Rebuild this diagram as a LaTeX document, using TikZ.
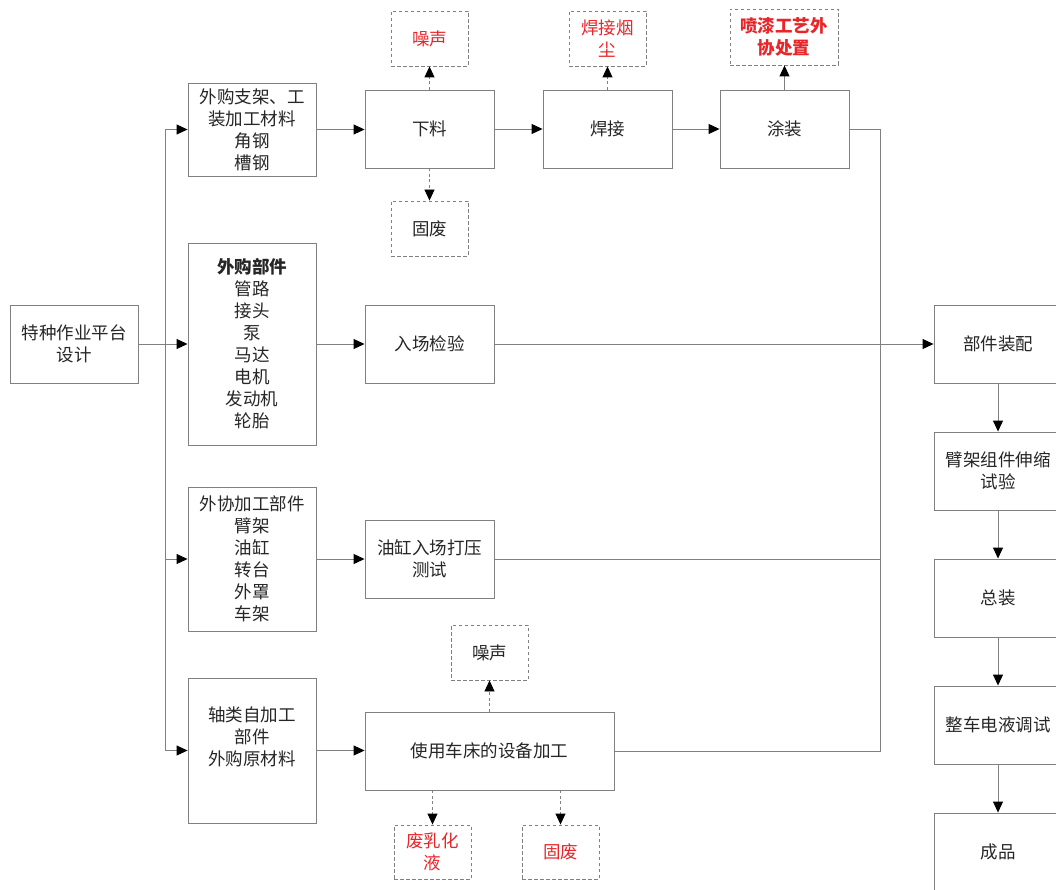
\documentclass[tikz,border=0pt]{standalone}
\usepackage{fontspec}
\setmainfont{Noto Sans CJK SC}
\usetikzlibrary{arrows.meta}
\definecolor{ln}{HTML}{808080}
\definecolor{tx}{HTML}{262626}
\definecolor{rd}{HTML}{E8262A}
\tikzset{
  box/.style={draw=ln, line width=0.9pt, minimum width=128pt, minimum height=78pt, align=center, inner sep=0pt, text=tx, font=\fontsize{17.5pt}{22pt}\selectfont},
  dbox/.style={box, dash pattern=on 3.5pt off 2.5pt, minimum width=77pt, minimum height=55pt},
  con/.style={draw=ln, line width=0.9pt},
  arr/.style={con, -{Triangle[black, length=11pt, width=10pt]}},
  darr/.style={arr, dash pattern=on 3pt off 2.5pt},
}
\begin{document}
\begin{tikzpicture}[x=1pt, y=-1pt]
\useasboundingbox (0,0) rectangle (1056,890);
\clip (0,0) rectangle (1056,890);
\fill[white] (0,0) rectangle (1056,890);
% left
\node[box] (design) at (74,344) {特种作业平台\\设计};
\node[box, minimum height=93pt] (a1) at (252,129.5) {外购支架、工\\装加工材料\\角钢\\槽钢};
\node[box, minimum height=202pt] (a2) at (252,344) {\textbf{外购部件}\\管路\\接头\\泵\\马达\\电机\\发动机\\轮胎};
\node[box, minimum height=144pt] (a3) at (252,559) {外协加工部件\\臂架\\油缸\\转台\\外罩\\车架};
\node[box, minimum height=145pt] (a4) at (252,750.5) {轴类自加工\\部件\\外购原材料\\\strut};
% process row 1
\node[box, minimum width=129pt] (xl) at (429.5,129) {下料};
\node[box, minimum width=129pt] (hj) at (607.5,129) {焊接};
\node[box, minimum width=129pt] (tz) at (784.5,129) {涂装};
\node[dbox, text=rd] (n1) at (429.5,38.5) {噪声};
\node[dbox, text=rd] (yc) at (607.5,38.5) {焊接烟\\尘};
\node[dbox, text=rd, minimum width=108pt, minimum height=56pt, font=\fontsize{17.5pt}{22pt}\selectfont\bfseries] (pq) at (784,37) {喷漆工艺外\\协处置};
\node[dbox] (gf1) at (429.5,228.5) {固废};
% other processes
\node[box, minimum width=129pt] (rc) at (429.5,344) {入场检验};
\node[box, minimum width=129pt] (yg) at (429.5,559) {油缸入场打压\\测试};
\node[box, minimum width=249pt] (cc) at (489.5,751) {使用车床的设备加工};
\node[dbox] (n2) at (489.5,652.5) {噪声};
\node[dbox, text=rd, minimum height=54pt] (fr) at (432.5,852) {废乳化\\液};
\node[dbox, text=rd, minimum height=54pt] (gf2) at (560.5,852) {固废};
% right column
\node[box] (bj) at (998,344) {部件装配};
\node[box] (sy) at (998,471) {臂架组件伸缩\\试验};
\node[box] (zz) at (998,598) {总装};
\node[box] (tc) at (998,725) {整车电液调试};
\node[box] (cp) at (998,852) {成品};
% bus
\coordinate (bt) at (165,129.5);
\coordinate (bm) at (165,344);
\coordinate (b3) at (165,559);
\coordinate (bb) at (165,750.5);
\draw[con] (design.east) -- (bm);
\draw[con] (bt) -- (bb);
\draw[arr] (bt) -- (a1.west);
\draw[arr] (bm) -- (a2.west);
\draw[arr] (b3) -- (a3.west);
\draw[arr] (bb) -- (a4.west);
% flows
\draw[arr] (a1.east) -- (a1.east -| xl.west);
\draw[arr] (xl) -- (hj);
\draw[arr] (hj) -- (tz);
\draw[arr] (a2.east) -- (rc.west);
\draw[arr] (a3.east) -- (yg.west);
\draw[arr] (a4.east) -- (a4.east -| cc.west);
\draw[darr] (xl.north) -- (n1.south);
\draw[darr] (xl.south) -- (gf1.north);
\draw[darr] (hj.north) -- (yc.south);
\draw[arr] (tz.north) -- (tz.north |- pq.south);
\draw[darr] (cc.north) -- (n2.south);
\draw[darr] (cc.south -| fr.north) -- (fr.north);
\draw[darr] (cc.south -| gf2.north) -- (gf2.north);
% collector
\coordinate (c1) at (880,129);
\coordinate (c2) at (880,751);
\draw[con] (tz.east) -- (c1) -- (c2) -- (cc.east);
\draw[con] (yg.east) -- (yg.east -| c1);
\draw[arr] (rc.east) -- (bj.west);
\draw[arr] (bj) -- (sy);
\draw[arr] (sy) -- (zz);
\draw[arr] (zz) -- (tc);
\draw[arr] (tc) -- (cp);
\end{tikzpicture}
\end{document}
